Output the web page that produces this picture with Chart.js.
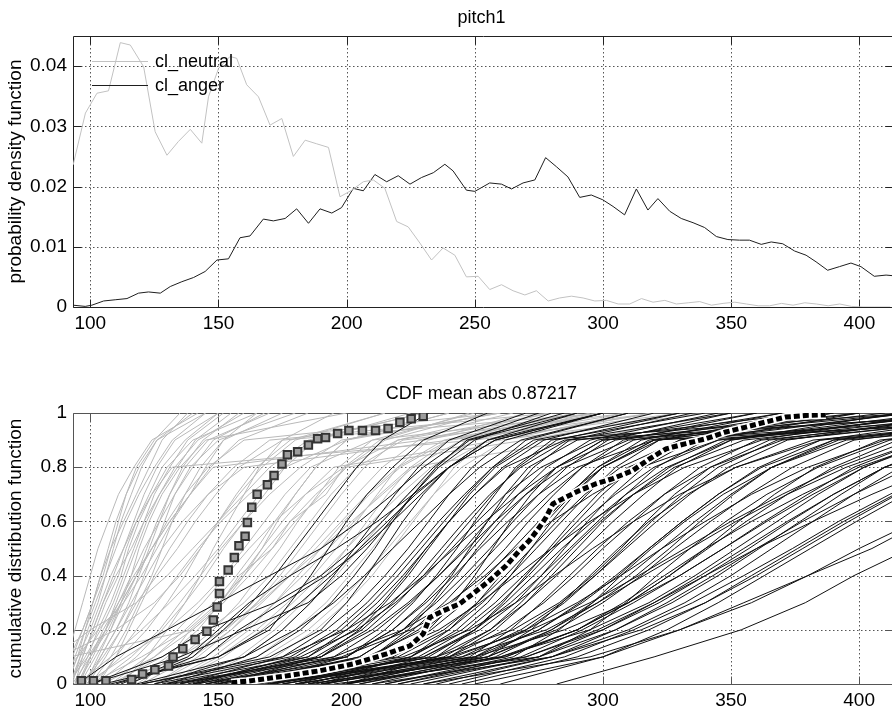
<!DOCTYPE html>
<html>
<head>
<meta charset="utf-8">
<script src="https://cdn.jsdelivr.net/npm/chart.js@4.4.0/dist/chart.umd.min.js"></script>
<style>
  html, body { margin: 0; padding: 0; background: #fff; overflow: hidden; }
  .panel { position: absolute; left: 0; width: 900px; height: 340px; }
  #top-panel { top: 0; }
  #bottom-panel { top: 377px; }
</style>
</head>
<body>
<div class="panel" id="top-panel"><canvas id="pdf-chart"></canvas></div>
<div class="panel" id="bottom-panel"><canvas id="cdf-chart"></canvas></div>
<script>
// tick values
const xTicks = [100, 150, 200, 250, 300, 350, 400];
const pdfTicks = [0, 0.01, 0.02, 0.03, 0.04];
const cdfTicks = [0, 0.2, 0.4, 0.6, 0.8, 1];

// top panel: pdf per class
const neutralPdfX = [93.3, 98.1, 102.6, 107.1, 111.7, 115.6, 120.8, 125.3, 129.9, 134.4, 139.0, 143.5, 146.1, 150.0,
  154.5, 157.1, 161.0, 165.6, 170.1, 174.7, 179.2, 183.8, 188.3, 192.9, 197.4, 202.0, 206.5, 210.4, 214.9, 219.5,
  224.0, 228.6, 233.1, 237.6, 242.2, 246.7, 251.3, 255.8, 260.4, 264.9, 269.5, 274.0, 278.6, 283.1, 287.7, 292.2,
  296.8, 301.3, 305.9, 310.4, 315.0, 319.5, 324.1, 328.6, 333.2, 337.7, 342.3, 346.8, 351.4, 355.9, 360.5, 365.0,
  369.6, 374.1, 378.7, 383.2, 387.8, 392.3, 396.9, 401.4, 406.0, 412.0];
const neutralPdfY = [0.0236, 0.0322, 0.0355, 0.0359, 0.0439, 0.0435, 0.0399, 0.0291, 0.0252, 0.0275, 0.0295, 0.0272, 0.0349, 0.0396,
  0.0416, 0.0413, 0.0369, 0.0349, 0.0302, 0.0313, 0.0250, 0.0277, 0.0271, 0.0265, 0.0183, 0.0194, 0.0208, 0.0211, 0.0197, 0.0142,
  0.0133, 0.0106, 0.0078, 0.0098, 0.0086, 0.0050, 0.0051, 0.0029, 0.0037, 0.0027, 0.0020, 0.0027, 0.0010, 0.0015, 0.0018, 0.0015,
  0.0010, 0.0011, 0.0005, 0.0005, 0.0014, 0.0008, 0.0011, 0.0005, 0.0007, 0.0009, 0.0003, 0.0006, 0.0008, 0.0005, 0.0002, 0.0002,
  0.0006, 0.0003, 0.0007, 0.0005, 0.0002, 0.0005, 0.0001, 0, 0, 0];

const angerPdfX = [93.3, 98.0, 100.6, 105.2, 109.7, 114.3, 118.8, 122.7, 127.3, 131.2, 135.7, 140.3, 144.8, 149.4,
  153.9, 158.4, 162.3, 167.5, 171.4, 176.0, 180.5, 185.1, 189.6, 194.2, 198.0, 202.6, 206.5, 211.0, 215.6, 220.1,
  224.7, 229.2, 233.8, 238.3, 241.5, 246.7, 250.0, 255.8, 260.4, 264.3, 268.8, 273.4, 277.6, 281.8, 286.3, 290.9,
  295.4, 299.9, 303.9, 308.4, 313.0, 317.5, 321.4, 326.0, 330.5, 335.1, 339.6, 344.2, 348.7, 353.2, 357.1, 361.7,
  365.6, 370.1, 374.7, 379.2, 383.1, 387.6, 392.2, 396.7, 400.6, 405.8, 410.4, 413.0];
const angerPdfY = [0.0003, 0.0001, 0.0003, 0.0010, 0.0012, 0.0014, 0.0023, 0.0025, 0.0023, 0.0034, 0.0042, 0.0049, 0.0059, 0.0078,
  0.0080, 0.0115, 0.0118, 0.0146, 0.0143, 0.0147, 0.0163, 0.0139, 0.0163, 0.0156, 0.0165, 0.0197, 0.0193, 0.0220, 0.0208, 0.0218,
  0.0204, 0.0215, 0.0223, 0.0237, 0.0226, 0.0194, 0.0192, 0.0206, 0.0204, 0.0196, 0.0206, 0.0211, 0.0248, 0.0233, 0.0216, 0.0182,
  0.0186, 0.0178, 0.0167, 0.0153, 0.0196, 0.0161, 0.0180, 0.0159, 0.0147, 0.0140, 0.0132, 0.0117, 0.0112, 0.0111, 0.0111, 0.0104,
  0.0108, 0.0105, 0.0093, 0.0086, 0.0075, 0.0061, 0.0067, 0.0073, 0.0067, 0.0051, 0.0053, 0.0052];

// bottom panel: one CDF per utterance, given as the pitch where it crosses each level
const cdfLevels = [0, 0.1, 0.2, 0.3, 0.4, 0.5, 0.6, 0.7, 0.8, 0.9, 1];

const neutralCdfX = [
  [92, 96, 99, 103, 106, 109, 112, 116, 120, 126, 140],
  [90, 95, 100, 104, 108, 113, 117, 121, 126, 133, 150],
  [94, 99, 103, 108, 112, 115, 119, 124, 130, 140, 165],
  [88, 93, 97, 101, 105, 108, 111, 114, 118, 125, 135],
  [95, 101, 106, 110, 114, 118, 122, 127, 133, 142, 160],
  [92, 98, 104, 109, 113, 117, 121, 125, 131, 138, 152],
  [97, 104, 110, 115, 119, 123, 127, 131, 137, 146, 170],
  [90, 94, 98, 102, 106, 110, 114, 119, 125, 132, 145],
  [99, 106, 112, 117, 121, 125, 129, 133, 139, 150, 180],
  [93, 100, 107, 112, 118, 122, 126, 131, 136, 144, 158],
  [86, 92, 97, 101, 104, 108, 113, 118, 123, 128, 138],
  [100, 108, 114, 119, 124, 128, 132, 137, 143, 152, 175],
  [94, 97, 101, 105, 110, 116, 121, 127, 134, 141, 155],
  [91, 99, 106, 111, 116, 121, 127, 133, 140, 148, 168],
  [96, 102, 108, 112, 116, 119, 123, 128, 135, 145, 200],
  [100, 112, 122, 130, 137, 143, 150, 158, 167, 180, 215],
  [105, 118, 128, 137, 145, 152, 160, 168, 176, 188, 225],
  [95, 108, 120, 131, 141, 150, 158, 166, 174, 186, 230],
  [110, 125, 137, 148, 157, 165, 172, 180, 188, 200, 240],
  [118, 135, 148, 158, 166, 174, 181, 189, 197, 210, 250],
  [102, 116, 127, 135, 143, 151, 160, 170, 182, 198, 260],
  [125, 142, 155, 165, 174, 182, 190, 198, 207, 220, 265],
  [115, 138, 153, 165, 176, 186, 195, 204, 214, 228, 280],
  [130, 150, 165, 177, 187, 196, 204, 212, 220, 232, 270],
  [98, 114, 130, 142, 152, 160, 168, 176, 186, 210, 300],
  [135, 158, 172, 183, 192, 200, 208, 216, 225, 240, 290],
  [108, 128, 146, 160, 170, 178, 186, 194, 204, 222, 310],
  [80, 86, 100, 118, 130, 140, 150, 160, 170, 185, 230],
  [75, 88, 110, 125, 135, 143, 150, 157, 165, 178, 215],
  [82, 92, 140, 152, 160, 167, 173, 180, 188, 200, 240],
  [85, 95, 98, 101, 104, 107, 110, 114, 119, 126, 145],
  [89, 91, 94, 97, 100, 103, 107, 111, 117, 124, 142],
  [93, 96, 102, 106, 111, 114, 118, 123, 128, 137, 150],
  [96, 100, 105, 111, 117, 124, 131, 139, 147, 158, 185],
  [91, 95, 103, 113, 120, 126, 132, 139, 145, 152, 165],
  [98, 103, 108, 113, 118, 124, 131, 139, 148, 230, 290],
  [92, 97, 101, 105, 109, 113, 118, 124, 132, 250, 330],
  [103, 110, 115, 120, 125, 131, 138, 146, 156, 170, 280],
  [97, 105, 112, 118, 126, 134, 141, 149, 158, 175, 300],
  [112, 122, 130, 137, 143, 148, 154, 160, 166, 175, 195],
  [120, 131, 139, 151, 158, 171, 178, 192, 199, 213, 248],
  [140, 165, 180, 192, 201, 210, 218, 226, 235, 248, 300],
  [150, 172, 188, 200, 210, 218, 226, 234, 242, 255, 320],
  [105, 125, 140, 152, 162, 171, 180, 190, 200, 215, 255],
  [120, 140, 155, 167, 178, 188, 198, 208, 220, 238, 290],
  [128, 148, 162, 172, 181, 190, 199, 209, 221, 240, 300],
  [110, 135, 152, 166, 178, 190, 202, 214, 226, 245, 310],
  [138, 160, 175, 186, 196, 205, 214, 224, 236, 255, 320],
  [100, 120, 138, 150, 160, 169, 178, 188, 200, 270, 330],
  [115, 130, 142, 151, 159, 167, 175, 184, 195, 260, 340],
  [125, 145, 160, 172, 183, 193, 203, 213, 225, 290, 350],
  [145, 168, 185, 197, 207, 216, 225, 234, 245, 262, 310],
  [108, 122, 134, 144, 153, 162, 172, 184, 199, 220, 280],
  [132, 152, 167, 179, 190, 200, 210, 221, 233, 250, 295],
  [102, 110, 118, 126, 134, 142, 151, 162, 176, 200, 260],
  [99, 104, 110, 116, 122, 128, 136, 146, 160, 240, 320],
  [95, 100, 106, 112, 118, 124, 130, 137, 146, 160, 260]
];

const angerCdfX = [
  [115, 140, 152, 163, 172, 180, 188, 196, 204, 214, 232],
  [105, 150, 170, 178, 186, 193, 200, 208, 218, 230, 255],
  [125, 160, 175, 186, 195, 203, 211, 219, 228, 240, 270],
  [130, 165, 182, 194, 203, 211, 218, 226, 235, 247, 285],
  [120, 170, 190, 200, 208, 215, 222, 230, 240, 255, 300],
  [100, 135, 160, 185, 198, 208, 217, 226, 236, 250, 280],
  [95, 110, 130, 150, 170, 190, 205, 218, 230, 245, 275],
  [110, 145, 158, 175, 192, 206, 218, 229, 240, 255, 290],
  [135, 175, 192, 205, 215, 224, 232, 240, 249, 262, 300],
  [140, 180, 198, 210, 220, 229, 238, 247, 257, 270, 310],
  [128, 185, 203, 214, 223, 231, 240, 250, 261, 277, 320],
  [145, 190, 208, 220, 230, 239, 248, 257, 267, 282, 330],
  [150, 195, 212, 225, 236, 246, 255, 264, 273, 287, 335],
  [132, 200, 218, 230, 240, 249, 258, 267, 278, 295, 345],
  [155, 205, 222, 235, 246, 256, 265, 275, 286, 302, 350],
  [140, 210, 228, 241, 252, 262, 271, 281, 292, 308, 360],
  [160, 215, 233, 246, 257, 267, 277, 287, 298, 315, 370],
  [148, 220, 240, 253, 264, 274, 284, 294, 305, 322, 380],
  [165, 225, 245, 258, 269, 280, 290, 300, 312, 330, 390],
  [170, 230, 250, 264, 276, 287, 298, 309, 321, 340, 400],
  [158, 235, 256, 270, 282, 293, 304, 316, 329, 350, 415],
  [175, 240, 262, 277, 289, 300, 312, 324, 338, 360, 430],
  [180, 245, 268, 284, 297, 309, 321, 334, 349, 372, 445],
  [168, 250, 275, 292, 306, 318, 331, 345, 361, 385, 460],
  [185, 255, 282, 300, 315, 328, 342, 357, 374, 398, 480],
  [190, 260, 290, 310, 326, 341, 356, 372, 390, 415, 500],
  [200, 270, 300, 322, 340, 357, 373, 390, 410, 440, 520],
  [210, 280, 315, 340, 360, 378, 396, 415, 440, 470, 560],
  [230, 295, 330, 358, 380, 400, 422, 445, 470, 500, 600],
  [282, 320, 354, 379, 398, 420, 440, 460, 480, 510, 600],
  [250, 300, 330, 355, 380, 405, 425, 450, 475, 505, 590],
  [150, 200, 215, 226, 235, 243, 250, 258, 266, 280, 340],
  [160, 205, 222, 233, 241, 248, 255, 262, 271, 290, 380],
  [170, 215, 232, 242, 250, 257, 264, 272, 282, 300, 400],
  [135, 190, 210, 224, 236, 247, 258, 270, 285, 310, 420],
  [145, 198, 225, 245, 258, 268, 277, 287, 298, 318, 390],
  [180, 225, 243, 255, 264, 272, 280, 289, 300, 320, 410],
  [175, 230, 252, 266, 276, 285, 294, 304, 316, 335, 420],
  [190, 240, 258, 270, 280, 290, 300, 312, 326, 348, 440],
  [155, 235, 265, 283, 296, 307, 317, 328, 342, 365, 450],
  [200, 250, 270, 285, 297, 308, 319, 331, 345, 368, 470],
  [165, 245, 278, 298, 313, 326, 338, 351, 366, 390, 480],
  [210, 258, 280, 296, 310, 323, 336, 350, 366, 392, 490],
  [185, 262, 290, 310, 326, 340, 353, 367, 383, 408, 500],
  [220, 268, 292, 312, 330, 347, 363, 380, 398, 425, 520],
  [195, 275, 305, 327, 345, 361, 377, 393, 410, 435, 530],
  [120, 175, 200, 217, 230, 242, 254, 267, 282, 305, 370],
  [138, 182, 204, 219, 231, 241, 251, 262, 276, 298, 360],
  [152, 208, 230, 244, 255, 265, 275, 286, 300, 322, 400],
  [162, 218, 238, 251, 262, 272, 282, 293, 307, 330, 420],
  [172, 228, 247, 260, 271, 281, 292, 305, 320, 345, 430],
  [182, 238, 256, 268, 278, 288, 299, 312, 328, 355, 450],
  [192, 248, 264, 276, 287, 298, 310, 324, 342, 370, 470],
  [205, 255, 272, 284, 295, 306, 318, 333, 352, 382, 490],
  [215, 265, 283, 296, 307, 319, 332, 347, 366, 395, 510],
  [225, 275, 295, 309, 321, 334, 348, 364, 384, 412, 530],
  [145, 212, 236, 252, 266, 280, 295, 312, 332, 362, 460],
  [130, 195, 222, 240, 254, 266, 280, 296, 315, 345, 440],
  [155, 222, 248, 266, 281, 296, 312, 330, 352, 385, 500],
  [175, 242, 270, 290, 307, 323, 340, 358, 380, 410, 520],
  [240, 285, 312, 335, 355, 374, 392, 412, 435, 465, 560],
  [260, 300, 325, 345, 363, 381, 399, 418, 440, 470, 570],
  [118, 160, 180, 195, 207, 218, 229, 240, 252, 268, 310],
  [108, 150, 168, 182, 194, 205, 216, 227, 240, 258, 300],
  [125, 178, 196, 208, 218, 227, 236, 246, 257, 273, 330],
  [142, 188, 206, 218, 228, 237, 246, 256, 268, 286, 350],
  [100, 128, 145, 172, 190, 203, 214, 224, 234, 248, 290],
  [112, 138, 150, 162, 178, 196, 212, 226, 240, 258, 300],
  [165, 210, 226, 238, 248, 258, 268, 279, 292, 312, 380],
  [188, 232, 250, 262, 273, 284, 296, 309, 325, 350, 440],
  [198, 252, 275, 291, 305, 318, 331, 345, 362, 390, 480],
  [150, 190, 205, 215, 224, 232, 240, 248, 258, 275, 420],
  [170, 210, 224, 234, 243, 251, 260, 270, 282, 300, 450],
  [185, 225, 240, 251, 260, 269, 278, 288, 300, 320, 480],
  [200, 235, 250, 261, 270, 279, 288, 298, 310, 335, 500],
  [140, 185, 200, 212, 222, 231, 240, 250, 262, 285, 460],
  [160, 200, 218, 231, 242, 252, 263, 275, 290, 320, 520],
  [230, 280, 305, 325, 343, 360, 378, 398, 420, 450, 540],
  [215, 270, 298, 320, 340, 360, 382, 405, 430, 460, 560],
  [200, 260, 295, 318, 336, 352, 368, 384, 402, 428, 520],
  [220, 275, 300, 320, 338, 355, 372, 390, 410, 440, 540],
  [180, 250, 285, 310, 330, 347, 364, 382, 402, 430, 530],
  [235, 280, 310, 332, 350, 366, 382, 398, 416, 442, 540],
  [190, 255, 280, 298, 316, 334, 352, 372, 395, 425, 520],
  [205, 262, 290, 308, 324, 340, 358, 378, 400, 430, 525],
  [245, 290, 318, 340, 358, 376, 394, 414, 436, 466, 560],
  [170, 240, 272, 295, 314, 332, 350, 370, 392, 420, 510]
];

// class means
const neutralMeanX = [96.5, 101.2, 106.1, 116.1, 120.4, 125.2, 130.5, 132.3, 136.1, 140.9, 145.5, 148.0, 149.5, 150.4,
  150.4, 153.8, 156.2, 158.0, 160.4, 161.3, 163.0, 165.1, 169.1, 171.7, 174.8, 176.9, 180.9, 185.1, 188.7, 191.8,
  196.5, 200.9, 206.2, 211.3, 216.2, 220.8, 225.2, 229.9];
const neutralMeanY = [0.012, 0.012, 0.012, 0.017, 0.037, 0.053, 0.066, 0.100, 0.130, 0.164, 0.195, 0.236, 0.284, 0.334,
  0.378, 0.421, 0.467, 0.510, 0.545, 0.596, 0.652, 0.700, 0.735, 0.769, 0.812, 0.846, 0.857, 0.882, 0.905, 0.910,
  0.924, 0.935, 0.935, 0.935, 0.943, 0.966, 0.979, 0.988];

const angerMeanX = [155, 161, 176.6, 189.6, 202.6, 215.6, 224.7, 229.9, 232.5, 237.7, 244.1, 249.3, 255.8, 262.3, 267.5,
  271.4, 275.3, 277.9, 280.5, 285.7, 290.9, 297.4, 303.9, 311.7, 318.2, 324.7, 332.4, 340.2, 348.0, 355.8, 363.6,
  371.4, 379.2, 387.0];
const angerMeanY = [0.005, 0.010, 0.030, 0.049, 0.074, 0.111, 0.141, 0.185, 0.246, 0.270, 0.296, 0.333, 0.382, 0.437, 0.493,
  0.530, 0.579, 0.616, 0.665, 0.690, 0.714, 0.739, 0.758, 0.788, 0.831, 0.868, 0.887, 0.905, 0.930, 0.948, 0.967,
  0.985, 0.991, 0.993];

const FONT = '"Liberation Sans", Arial, Helvetica, sans-serif';
const tickFont = { family: FONT, size: 19 };
const labelFont = { family: FONT, size: 19 };

function toPoints(xs, ys) {
  return xs.map((x, i) => ({ x: x, y: ys[i] }));
}

// matlab style box: dotted grid, inward ticks
const frame = {
  id: 'frame',
  beforeDatasetsDraw(chart, args, opts) {
    const { ctx, chartArea: a, scales: { x, y } } = chart;
    ctx.save();
    ctx.lineWidth = 1;
    ctx.strokeStyle = '#555';
    ctx.setLineDash([1.5, 2.5]);
    ctx.beginPath();
    x.ticks.forEach(t => {
      const px = Math.round(x.getPixelForValue(t.value)) + 0.5;
      ctx.moveTo(px, a.top); ctx.lineTo(px, a.bottom);
    });
    y.ticks.forEach(t => {
      const py = Math.round(y.getPixelForValue(t.value)) + 0.5;
      if (py > a.bottom - 2 || py < a.top + 2) return;
      ctx.moveTo(a.left, py); ctx.lineTo(a.right, py);
    });
    ctx.stroke();

    ctx.setLineDash([]);
    ctx.strokeStyle = opts.color;
    ctx.beginPath();
    const L = Math.round(a.left) + 0.5, R = Math.round(a.right) + 0.5;
    const T = Math.round(a.top) + 0.5, B = Math.round(a.bottom) + 0.5;
    ctx.rect(L, T, R - L, B - T);
    x.ticks.forEach(t => {
      const px = Math.round(x.getPixelForValue(t.value)) + 0.5;
      ctx.moveTo(px, B); ctx.lineTo(px, B - 8);
      ctx.moveTo(px, T); ctx.lineTo(px, T + 8);
    });
    y.ticks.forEach(t => {
      const py = Math.round(y.getPixelForValue(t.value)) + 0.5;
      ctx.moveTo(L, py); ctx.lineTo(L + 8, py);
      ctx.moveTo(R, py); ctx.lineTo(R - 8, py);
    });
    ctx.stroke();
    ctx.restore();
  },
  afterDraw(chart, args, opts) {
    const { ctx, chartArea: a } = chart;
    ctx.save();
    ctx.fillStyle = '#000';
    ctx.font = '18px ' + FONT;
    ctx.textAlign = 'center';
    ctx.textBaseline = 'alphabetic';
    ctx.fillText(opts.title, (a.left + a.right) / 2 - 1.5, a.top - opts.titleGap);
    ctx.restore();
  }
};

// legend sitting inside the axes, no box
const insideLegend = {
  id: 'insideLegend',
  afterDatasetsDraw(chart) {
    const { ctx, chartArea: a } = chart;
    ctx.save();
    ctx.font = '18px ' + FONT;
    ctx.textBaseline = 'middle';
    ctx.fillStyle = '#000';
    chart.data.datasets.forEach((ds, i) => {
      const y = a.top + 25 + i * 24;
      ctx.strokeStyle = ds.borderColor;
      ctx.lineWidth = 1;
      ctx.beginPath();
      ctx.moveTo(a.left + 19, y + 0.5);
      ctx.lineTo(a.left + 75, y + 0.5);
      ctx.stroke();
      ctx.fillText(ds.label, a.left + 82, y + 1);
    });
    ctx.restore();
  }
};

function xAxis() {
  return {
    type: 'linear',
    min: 93.25,
    max: 413.1,
    afterBuildTicks: s => { s.ticks = xTicks.map(v => ({ value: v })); },
    afterFit: s => { s.height = 33; },
    grid: { display: false, drawTicks: false },
    border: { display: false },
    ticks: { color: '#000', font: tickFont, padding: 5, maxRotation: 0, autoSkip: false }
  };
}

function yAxis(max, tickVals, fmt, title) {
  return {
    type: 'linear',
    min: 0,
    max: max,
    afterBuildTicks: s => { s.ticks = tickVals.map(v => ({ value: v })); },
    afterFit: s => { s.width = 73; },
    grid: { display: false, drawTicks: false },
    border: { display: false },
    ticks: { color: '#000', font: tickFont, padding: 6, autoSkip: false, callback: fmt },
    title: { display: true, text: title, color: '#000', font: labelFont, padding: { top: 4, bottom: 0 } }
  };
}

const baseOptions = {
  responsive: true,
  maintainAspectRatio: false,
  animation: false,
  devicePixelRatio: 1,
  events: [],
  layout: { padding: { top: 36, right: 7, bottom: 0, left: 0 } },
  elements: { point: { radius: 0 }, line: { tension: 0 } }
};

new Chart(document.getElementById('pdf-chart'), {
  type: 'line',
  data: {
    datasets: [
      { label: 'cl_neutral', data: toPoints(neutralPdfX, neutralPdfY), borderColor: '#c2c2c2', borderWidth: 1, pointRadius: 0 },
      { label: 'cl_anger', data: toPoints(angerPdfX, angerPdfY), borderColor: '#1e1e1e', borderWidth: 1, pointRadius: 0 }
    ]
  },
  options: Object.assign({}, baseOptions, {
    scales: {
      x: xAxis(),
      y: yAxis(0.045, pdfTicks, v => (v === 0 ? '0' : v.toFixed(2)), 'probability density function')
    },
    plugins: {
      legend: { display: false },
      tooltip: { enabled: false },
      frame: { color: '#222', title: 'pitch1', titleGap: 12.7 }
    }
  }),
  plugins: [frame, insideLegend]
});

const cdfSets = [];
neutralCdfX.forEach(xs => {
  cdfSets.push({ data: toPoints(xs, cdfLevels), borderColor: '#b9b9b9', borderWidth: 1, pointRadius: 0, order: 5 });
});
angerCdfX.forEach(xs => {
  cdfSets.push({ data: toPoints(xs, cdfLevels), borderColor: '#111', borderWidth: 1, pointRadius: 0, order: 4 });
});
cdfSets.push({ data: toPoints(angerMeanX, angerMeanY), borderColor: '#fff', borderWidth: 8, pointRadius: 0, order: 2 });
cdfSets.push({ data: toPoints(angerMeanX, angerMeanY), borderColor: '#000', borderWidth: 5, borderDash: [6, 3], pointRadius: 0, order: 1 });
cdfSets.push({
  data: toPoints(neutralMeanX, neutralMeanY), showLine: false, order: 0,
  pointStyle: 'rect', pointRadius: 5.3, pointBackgroundColor: '#9d9d9d', pointBorderColor: '#333', pointBorderWidth: 2
});

new Chart(document.getElementById('cdf-chart'), {
  type: 'line',
  data: { datasets: cdfSets },
  options: Object.assign({}, baseOptions, {
    scales: {
      x: xAxis(),
      y: yAxis(1, cdfTicks, v => String(v), 'cumulative distribution function')
    },
    plugins: {
      legend: { display: false },
      tooltip: { enabled: false },
      frame: { color: '#555', title: 'CDF mean abs 0.87217', titleGap: 14.4 }
    }
  }),
  plugins: [frame]
});
</script>
</body>
</html>
